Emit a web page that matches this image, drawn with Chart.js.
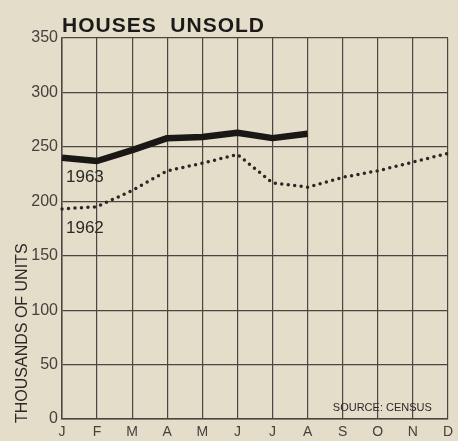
<!DOCTYPE html>
<html>
<head>
<meta charset="utf-8">
<script src="https://cdn.jsdelivr.net/npm/chart.js@4"></script>
<style>
  html, body { margin: 0; padding: 0; background: #e4ddca; }
  #wrap { width: 458px; height: 441px; }
</style>
</head>
<body>
<div id="wrap"><canvas id="myChart" width="458" height="441"></canvas></div>
<script>
const months = ['J', 'F', 'M', 'A', 'M', 'J', 'J', 'A', 'S', 'O', 'N', 'D'];
const unsold1963 = [240, 237, 247, 258, 259, 263, 258, 262];
const unsold1962 = [193, 195, 210, 228, 235, 243, 217, 213, 222, 228, 236, 244];
const yTicks = [0, 50, 100, 150, 200, 250, 300, 350];

const ink = '#2b2926';

const extras = {
  id: 'extras',
  afterDraw(chart) {
    const c = chart.ctx;
    const x = chart.scales.x, y = chart.scales.y;
    c.save();
    c.fillStyle = '#1c1a18';
    c.font = 'bold 21px "Liberation Sans", Arial, sans-serif';
    c.letterSpacing = '1px';
    c.textBaseline = 'alphabetic';
    c.fillText('HOUSES  UNSOLD', 62, 32);
    c.letterSpacing = '0px';

    c.fillStyle = ink;
    c.font = '17px "Liberation Sans", Arial, sans-serif';
    c.fillText('1963', x.getPixelForValue(0) + 4, y.getPixelForValue(unsold1963[0]) + 24);
    c.fillText('1962', x.getPixelForValue(0) + 4, y.getPixelForValue(unsold1962[0]) + 24);

    c.font = '11px "Liberation Sans", Arial, sans-serif';
    c.textAlign = 'right';
    c.fillText('SOURCE: CENSUS', x.getPixelForValue(10) + 19, y.getPixelForValue(0) - 8);

    c.translate(27, y.getPixelForValue(0) + 4);
    c.rotate(-Math.PI / 2);
    c.textAlign = 'left';
    c.font = '16px "Liberation Sans", Arial, sans-serif';
    c.fillText('THOUSANDS OF UNITS', 0, 0);
    c.restore();
  }
};

new Chart(document.getElementById('myChart'), {
  type: 'line',
  data: {
    labels: months,
    datasets: [{
      label: '1963',
      data: unsold1963,
      borderColor: '#1a1816',
      borderWidth: 6.5,
      pointRadius: 0,
      tension: 0,
      borderJoinStyle: 'round'
    }, {
      label: '1962',
      data: unsold1962,
      borderColor: '#2a2724',
      borderWidth: 3.5,
      borderDash: [0, 6.5],
      borderCapStyle: 'round',
      pointRadius: 0,
      tension: 0
    }]
  },
  options: {
    responsive: false,
    animation: false,
    layout: { padding: { top: 38, right: 7, left: 0, bottom: 0 } },
    plugins: {
      legend: { display: false },
      tooltip: { enabled: false }
    },
    scales: {
      x: {
        offset: false,
        afterFit(s) { s.height = 22; },
        grid: { color: '#4a4641', lineWidth: 1.2, drawTicks: false },
        border: { color: '#4a4641', width: 1.5 },
        ticks: {
          color: '#45413c',
          padding: 5,
          maxRotation: 0,
          autoSkip: false,
          font: { family: '"Liberation Sans", Arial, sans-serif', size: 14 }
        }
      },
      y: {
        min: 0,
        max: 350,
        afterFit(s) { s.width = 62; },
        afterBuildTicks(s) { s.ticks = yTicks.map(v => ({ value: v })); },
        grid: { color: '#4a4641', lineWidth: 1.2, drawTicks: false },
        border: { color: '#4a4641', width: 1.5 },
        ticks: {
          color: '#45413c',
          padding: 4,
          font: { family: '"Liberation Sans", Arial, sans-serif', size: 16 }
        }
      }
    }
  },
  plugins: [extras]
});
</script>
</body>
</html>
